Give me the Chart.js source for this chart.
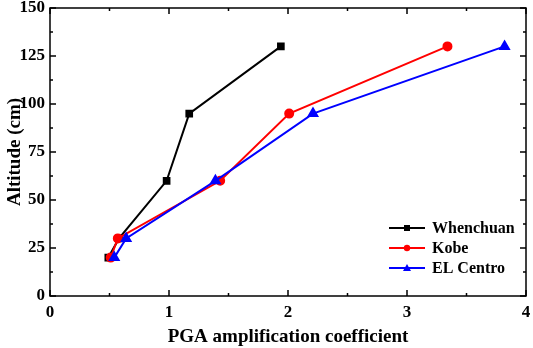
<!DOCTYPE html>
<html>
<head>
<meta charset="utf-8">
<script src="https://cdn.jsdelivr.net/npm/chart.js@4"></script>
<style>
  html, body { margin: 0; padding: 0; background: #fff; }
  #wrap { width: 533px; height: 348px; }
</style>
</head>
<body>
<div id="wrap"><canvas id="pgaChart" width="533" height="348"></canvas></div>
<script>
// valores
const altitude = [20, 30, 60, 95, 130];
const whenchuan = [0.49, 0.58, 0.98, 1.17, 1.94];
const kobe = [0.51, 0.57, 1.43, 2.01, 3.34];
const elCentro = [0.54, 0.64, 1.39, 2.21, 3.82];
const seriesNames = ['Whenchuan', 'Kobe', 'EL Centro'];
const xTicks = [0, 1, 2, 3, 4];
const yTicks = [0, 25, 50, 75, 100, 125, 150];

const FONT = '"Liberation Serif", "Times New Roman", serif';

function pts(xs) {
    return xs.map((x, i) => ({ x: x, y: altitude[i] }));
}

// ticks para dentro + caixa + legenda dentro do gráfico
const framePlugin = {
    id: 'frame',
    afterDraw(chart) {
        const ctx = chart.ctx;
        const a = chart.chartArea;
        const xs = chart.scales.x, ys = chart.scales.y;
        ctx.save();
        ctx.strokeStyle = '#000';
        ctx.lineWidth = 1.5;
        ctx.strokeRect(a.left, a.top, a.right - a.left, a.bottom - a.top);
        ctx.beginPath();
        for (let v = 0; v <= 4.001; v += 0.5) {
            const px = xs.getPixelForValue(v);
            const len = Math.abs(v % 1) < 0.01 ? 6 : 3;
            ctx.moveTo(px, a.bottom); ctx.lineTo(px, a.bottom - len);
            ctx.moveTo(px, a.top); ctx.lineTo(px, a.top + len);
        }
        for (let v = 0; v <= 150.001; v += 12.5) {
            const py = ys.getPixelForValue(v);
            const len = Math.abs(v % 25) < 0.01 ? 6 : 3;
            ctx.moveTo(a.left, py); ctx.lineTo(a.left + len, py);
            ctx.moveTo(a.right, py); ctx.lineTo(a.right - len, py);
        }
        ctx.stroke();

        // legenda
        ctx.font = 'bold 16px ' + FONT;
        ctx.textBaseline = 'middle';
        chart.data.datasets.forEach((ds, i) => {
            const y = 228 + i * 20;
            const x0 = 389, x1 = 425;
            ctx.strokeStyle = ds.borderColor;
            ctx.lineWidth = 2;
            ctx.beginPath();
            ctx.moveTo(x0, y); ctx.lineTo(x1, y);
            ctx.stroke();
            ctx.fillStyle = ds.borderColor;
            const cx = (x0 + x1) / 2;
            ctx.beginPath();
            if (ds.pointStyle === 'rect') {
                ctx.rect(cx - 3, y - 3, 6, 6);
            } else if (ds.pointStyle === 'circle') {
                ctx.arc(cx, y, 3.2, 0, Math.PI * 2);
            } else {
                ctx.moveTo(cx, y - 4); ctx.lineTo(cx + 4, y + 3); ctx.lineTo(cx - 4, y + 3);
                ctx.closePath();
            }
            ctx.fill();
            ctx.fillStyle = '#000';
            ctx.fillText(ds.label, 432, y + 1);
        });
        ctx.restore();
    }
};

const ctx = document.getElementById('pgaChart').getContext('2d');
const pgaChart = new Chart(ctx, {
    type: 'scatter',
    data: {
        datasets: [
            {
                label: seriesNames[0],
                data: pts(whenchuan),
                showLine: true,
                borderColor: '#000000',
                backgroundColor: '#000000',
                pointStyle: 'rect',
                pointRadius: 4,
                borderWidth: 2,
                order: 3
            },
            {
                label: seriesNames[1],
                data: pts(kobe),
                showLine: true,
                borderColor: '#ff0000',
                backgroundColor: '#ff0000',
                pointStyle: 'circle',
                pointRadius: 4,
                borderWidth: 2,
                order: 2
            },
            {
                label: seriesNames[2],
                data: pts(elCentro),
                showLine: true,
                borderColor: '#0000ff',
                backgroundColor: '#0000ff',
                pointStyle: 'triangle',
                pointRadius: 5,
                borderWidth: 2,
                order: 1
            }
        ]
    },
    options: {
        responsive: false,
        animation: false,
        layout: { padding: { top: 8, right: 4, left: 0, bottom: 0 } },
        plugins: {
            legend: { display: false },
            tooltip: { enabled: false }
        },
        scales: {
            x: {
                type: 'linear',
                min: 0,
                max: 4,
                afterBuildTicks: s => { s.ticks = xTicks.map(v => ({ value: v })); },
                afterFit: s => { s.height = 52; s.paddingLeft = 0; s.paddingRight = 0; },
                grid: { display: false, drawTicks: false },
                border: { display: false },
                ticks: {
                    color: '#000',
                    padding: 6,
                    font: { family: FONT, size: 17, weight: 'bold' }
                },
                title: {
                    display: true,
                    text: 'PGA amplification coefficient',
                    color: '#000',
                    padding: { top: 3, bottom: 0 },
                    font: { family: FONT, size: 19, weight: 'bold' }
                }
            },
            y: {
                type: 'linear',
                min: 0,
                max: 150,
                afterBuildTicks: s => { s.ticks = yTicks.map(v => ({ value: v })); },
                afterFit: s => { s.width = 50; s.paddingTop = 0; s.paddingBottom = 0; },
                grid: { display: false, drawTicks: false },
                border: { display: false },
                ticks: {
                    color: '#000',
                    padding: 5,
                    font: { family: FONT, size: 17, weight: 'bold', lineHeight: 1 }
                },
                title: {
                    display: true,
                    text: 'Altitude (cm)',
                    color: '#000',
                    padding: { top: 4, bottom: 0 },
                    font: { family: FONT, size: 19, weight: 'bold' }
                }
            }
        }
    },
    plugins: [framePlugin]
});
</script>
</body>
</html>
